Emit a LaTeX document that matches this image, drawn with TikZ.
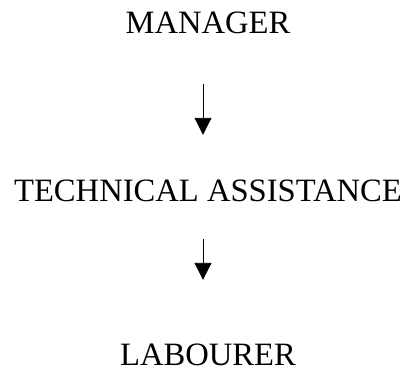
\documentclass[tikz,border=0pt]{standalone}
\usepackage{fontspec}
\setmainfont{Liberation Serif}
\usetikzlibrary{arrows.meta}
\begin{document}
\begin{tikzpicture}[
  x=1pt, y=1pt,
  role/.style={inner sep=0pt, anchor=base, font=\fontsize{32.6}{38}\selectfont,
    text height=21pt, text depth=0pt},
  flow/.style={line width=0.9pt, -{Triangle[width=17pt,length=17pt]}}]
\useasboundingbox (0,0) rectangle (410,-372);
\node[role] (manager) at (208,-33) {MANAGER};
\node[role] (tech) at (208,-201) {TECHNICAL ASSISTANCE};
\node[role] (labourer) at (208,-365) {LABOURER};
% arrows sit a little left of the text centres
\draw[flow, shorten <=51pt, shorten >=45pt] ([xshift=-5pt]manager.south) -- ([xshift=-5pt]tech.north);
\draw[flow, shorten <=38pt, shorten >=64pt] ([xshift=-5pt]tech.south) -- ([xshift=-5pt]labourer.north);
\end{tikzpicture}
\end{document}
